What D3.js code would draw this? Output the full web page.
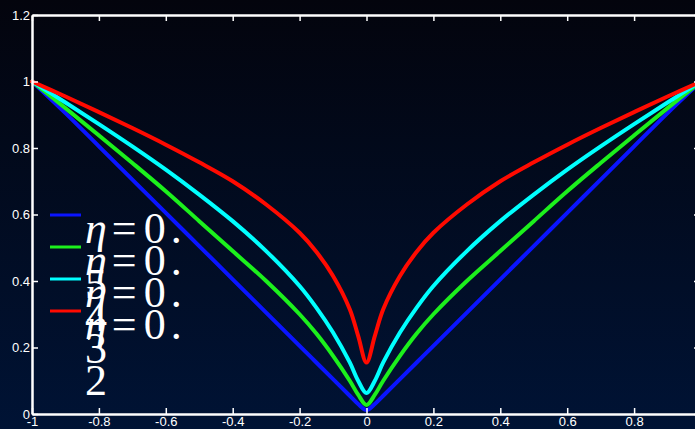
<!DOCTYPE html>
<html>
<head>
<meta charset="utf-8">
<script src="https://cdn.jsdelivr.net/npm/d3@7"></script>
<style>
    html, body { margin: 0; padding: 0; background: #000; }
    #chart { width: 695px; height: 429px; overflow: hidden; }
    .axis text { fill: #fff; font-family: "Liberation Sans", Arial, sans-serif; font-size: 13px; }
    .axis path, .axis line { stroke: #fff; }
    .legendLabel { fill: #fff; font-family: "Liberation Serif", "DejaVu Serif", serif; font-size: 44px; }
</style>
</head>
<body>
<div id="chart"></div>
<script>

/* DATA */
const xValues = [-1, -0.9, -0.8, -0.7, -0.6, -0.5, -0.4, -0.3, -0.2, -0.15, -0.1, -0.05, -0.025, 0,
                 0.025, 0.05, 0.1, 0.15, 0.2, 0.3, 0.4, 0.5, 0.6, 0.7, 0.8, 0.9, 1];

const etaLabels = ["0.5", "0.4", "0.3", "0.2"];

const yEta05 = [1.0, 0.905, 0.805, 0.705, 0.605, 0.505, 0.405, 0.305, 0.205, 0.155, 0.105, 0.055, 0.03, 0.012,
                0.03, 0.055, 0.105, 0.155, 0.205, 0.305, 0.405, 0.505, 0.605, 0.705, 0.805, 0.905, 1.0];
const yEta04 = [1.0, 0.92, 0.838, 0.755, 0.67, 0.58, 0.49, 0.40, 0.30, 0.242, 0.175, 0.10, 0.058, 0.027,
                0.058, 0.10, 0.175, 0.242, 0.30, 0.40, 0.49, 0.58, 0.67, 0.755, 0.838, 0.92, 1.0];
const yEta03 = [1.0, 0.937, 0.872, 0.805, 0.735, 0.66, 0.58, 0.49, 0.385, 0.32, 0.245, 0.155, 0.10, 0.063,
                0.10, 0.155, 0.245, 0.32, 0.385, 0.49, 0.58, 0.66, 0.735, 0.805, 0.872, 0.937, 1.0];
const yEta02 = [1.0, 0.955, 0.908, 0.86, 0.81, 0.757, 0.70, 0.63, 0.545, 0.488, 0.415, 0.315, 0.235, 0.155,
                0.235, 0.315, 0.415, 0.488, 0.545, 0.63, 0.70, 0.757, 0.81, 0.86, 0.908, 0.955, 1.0];

const xTicks = [-1, -0.8, -0.6, -0.4, -0.2, 0, 0.2, 0.4, 0.6, 0.8, 1];
const yTicks = [0, 0.2, 0.4, 0.6, 0.8, 1, 1.2];

const allSeries = [yEta05, yEta04, yEta03, yEta02];

/* SVG CANVAS */
const width = 695;
const height = 429;
const margin = {top: 15, left: 32, right: -6, bottom: 15};

const svg = d3.select("#chart")
    .append("svg")
    .attr("width", width)
    .attr("height", height);

// background gradient
const grad = svg.append("defs").append("linearGradient")
    .attr("id", "bg")
    .attr("x1", 0).attr("y1", 0).attr("x2", 0).attr("y2", 1);
grad.append("stop").attr("offset", "0%").attr("stop-color", "#03040d");
grad.append("stop").attr("offset", "100%").attr("stop-color", "#001335");

svg.append("rect")
    .attr("width", width)
    .attr("height", height)
    .attr("fill", "url(#bg)");

/* SCALES */
const xScale = d3.scaleLinear()
    .domain([-1, 1])
    .range([margin.left, width - margin.right]);

const yScale = d3.scaleLinear()
    .domain([0, 1.2])
    .range([height - margin.bottom, margin.top]);

const colorScale = d3.scaleOrdinal()
    .domain(etaLabels)
    .range(["#0a14ff", "#1cf01c", "#00ffff", "#ff0a00"]);

const fmt = d => String(+d.toFixed(1));

/* CURVES */
const line = d3.line()
    .x((d, i) => xScale(xValues[i]))
    .y(d => yScale(d))
    .curve(d3.curveCatmullRom.alpha(0.5));

svg.selectAll(".curve")
    .data(allSeries)
    .enter()
    .append("path")
    .attr("class", "curve")
    .attr("d", d => line(d))
    .attr("fill", "none")
    .attr("stroke", (d, i) => colorScale(etaLabels[i]))
    .attr("stroke-width", 4)
    .attr("stroke-linecap", "round")
    .attr("stroke-linejoin", "round");

/* AXES (ticks pointing inward) */
const xAxis = svg.append("g")
    .attr("class", "axis")
    .attr("transform", `translate(0,${yScale(0)})`)
    .call(d3.axisBottom(xScale).tickValues(xTicks).tickFormat(fmt).tickSizeInner(-6).tickSizeOuter(0).tickPadding(3));

const xAxisTop = svg.append("g")
    .attr("class", "axis")
    .attr("transform", `translate(0,${yScale(1.2)})`)
    .call(d3.axisTop(xScale).tickValues(xTicks).tickFormat("").tickSizeInner(-6).tickSizeOuter(0));

const yAxis = svg.append("g")
    .attr("class", "axis")
    .attr("transform", `translate(${xScale(-1)},0)`)
    .call(d3.axisLeft(yScale).tickValues(yTicks).tickFormat(fmt).tickSizeInner(-6).tickSizeOuter(0).tickPadding(2));

const yAxisRight = svg.append("g")
    .attr("class", "axis")
    .attr("transform", `translate(${xScale(1)},0)`)
    .call(d3.axisRight(yScale).tickValues(yTicks).tickFormat("").tickSizeInner(-7).tickSizeOuter(0));

svg.selectAll(".axis path").attr("stroke-width", 2.5);
svg.selectAll(".axis line").attr("stroke-width", 1.5);

/* LEGEND */
const legendX = 50;
const legendTop = 215;
const legendSpacing = 32;

etaLabels.forEach(function(eta, i) {
    const y = legendTop + i * legendSpacing;

    svg.append("line")
        .attr("x1", legendX)
        .attr("x2", legendX + 31)
        .attr("y1", y)
        .attr("y2", y)
        .attr("stroke", colorScale(eta))
        .attr("stroke-width", 3);

    // label too wide for its box: the last digit wraps onto a line of its own
    const parts = eta.split(".");
    const label = svg.append("text")
        .attr("class", "legendLabel")
        .attr("x", 85)
        .attr("y", y + 28);
    label.append("tspan").attr("font-style", "italic").text("η");
    label.append("tspan").attr("dx", 5).text("=");
    label.append("tspan").attr("dx", 7).text(parts[0]);
    label.append("tspan").attr("dx", 5).text(".");
    label.append("tspan").attr("x", 85).attr("dy", 56).text(parts[1]);
});

</script>
</body>
</html>
